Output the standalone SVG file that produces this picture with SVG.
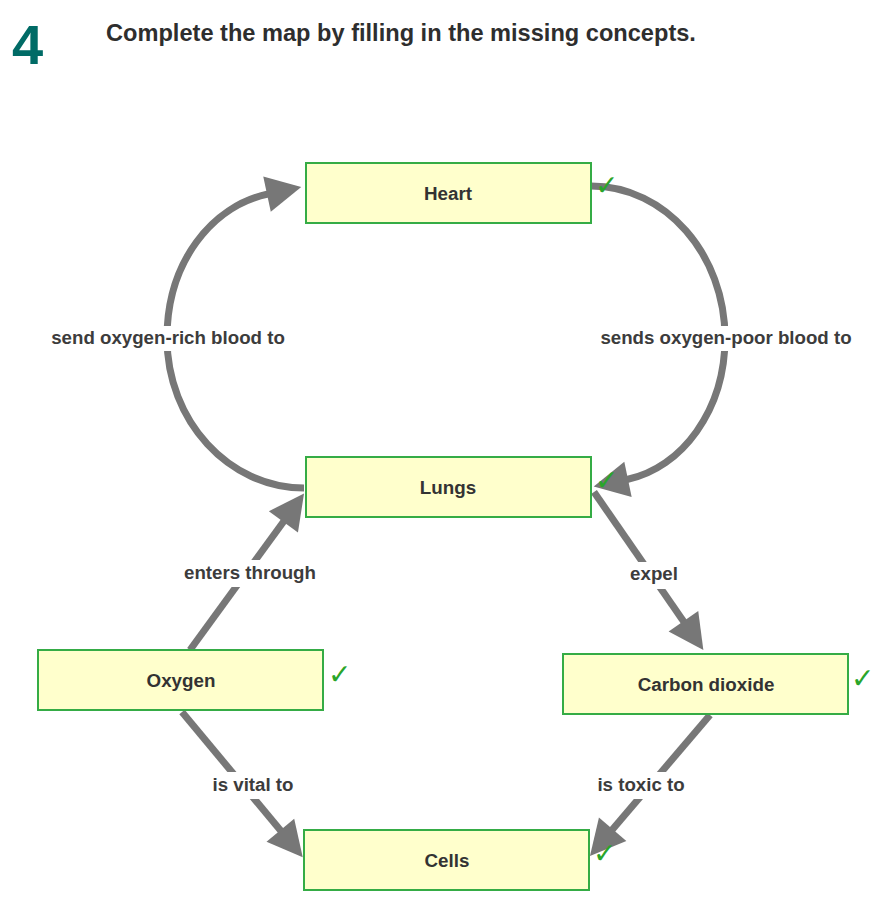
<svg xmlns="http://www.w3.org/2000/svg" width="888" height="913" viewBox="0 0 888 913">
<style>
  .box { fill: #ffffcc; stroke: #35ac45; stroke-width: 2; }
  .ntext { font-family: "Liberation Sans", Arial, sans-serif; font-weight: bold; font-size: 18.8px; fill: #333333; text-anchor: middle; }
  .ltext { font-family: "Liberation Sans", Arial, sans-serif; font-weight: bold; font-size: 18.7px; fill: #3c3c3c; text-anchor: middle; }
  .check { font-family: "DejaVu Sans", sans-serif; font-size: 28px; fill: #2aa52a; }
  .conn { fill: none; stroke: #777777; stroke-width: 7; marker-end: url(#arrow); }
  .lbg { fill: #ffffff; }
</style>
<defs>
  <marker id="arrow" markerUnits="userSpaceOnUse" markerWidth="40" markerHeight="40" refX="1" refY="18" orient="auto" overflow="visible">
    <path d="M0,0 L35,18 L0,36 Z" fill="#777777"/>
  </marker>
</defs>
<rect width="888" height="913" fill="#ffffff"/>
<text x="12" y="64" font-family="Liberation Sans, Arial, sans-serif" font-weight="bold" font-size="56" fill="#006b66">4</text>
<text x="106" y="41" font-family="Liberation Sans, Arial, sans-serif" font-weight="bold" font-size="23.6" fill="#2e2e2e">Complete the map by filling in the missing concepts.</text>
<g id="connectors">
  <path class="conn" d="M304,488 C229,488 167,421 167,338 C167,262 212,206 268,194"/>
  <path class="conn" d="M591,186 C666,186 725,255 725,338 C725,410 682,468 627,479.5"/>
  <path class="conn" d="M190,650 L284,521"/>
  <path class="conn" d="M594,492 L684,622"/>
  <path class="conn" d="M182,712 L281,831"/>
  <path class="conn" d="M710,715 L612,830"/>
  <rect class="lbg" x="47" y="326" width="243" height="25"/>
  <text class="ltext" x="168" y="344">send oxygen-rich blood to</text>
  <rect class="lbg" x="596" y="326" width="261" height="25"/>
  <text class="ltext" x="726" y="344">sends oxygen-poor blood to</text>
  <rect class="lbg" x="180" y="560" width="141" height="27"/>
  <text class="ltext" x="250" y="579">enters through</text>
  <rect class="lbg" x="626" y="562" width="56" height="27"/>
  <text class="ltext" x="654" y="580">expel</text>
  <rect class="lbg" x="208" y="772" width="90" height="27"/>
  <text class="ltext" x="253" y="791">is vital to</text>
  <rect class="lbg" x="595" y="772" width="93" height="27"/>
  <text class="ltext" x="641" y="791">is toxic to</text>
</g>
<g id="heart">
  <rect class="box" x="306" y="163" width="285" height="60"/>
  <text class="ntext" x="448" y="199.5">Heart</text>
  <text class="check" x="595" y="195">✓</text>
</g>
<g id="lungs">
  <rect class="box" x="306" y="457" width="285" height="60"/>
  <text class="ntext" x="448" y="493.5">Lungs</text>
  <text class="check" x="595" y="490">✓</text>
</g>
<g id="oxygen">
  <rect class="box" x="38" y="650" width="285" height="60"/>
  <text class="ntext" x="181" y="686.5">Oxygen</text>
  <text class="check" x="328" y="684">✓</text>
</g>
<g id="carbon-dioxide">
  <rect class="box" x="563" y="654" width="285" height="60"/>
  <text class="ntext" x="706" y="690.5">Carbon dioxide</text>
  <text class="check" x="851" y="688">✓</text>
</g>
<g id="cells">
  <rect class="box" x="304" y="830" width="285" height="60"/>
  <text class="ntext" x="447" y="866.5">Cells</text>
  <text class="check" x="593" y="863">✓</text>
</g>
</svg>
